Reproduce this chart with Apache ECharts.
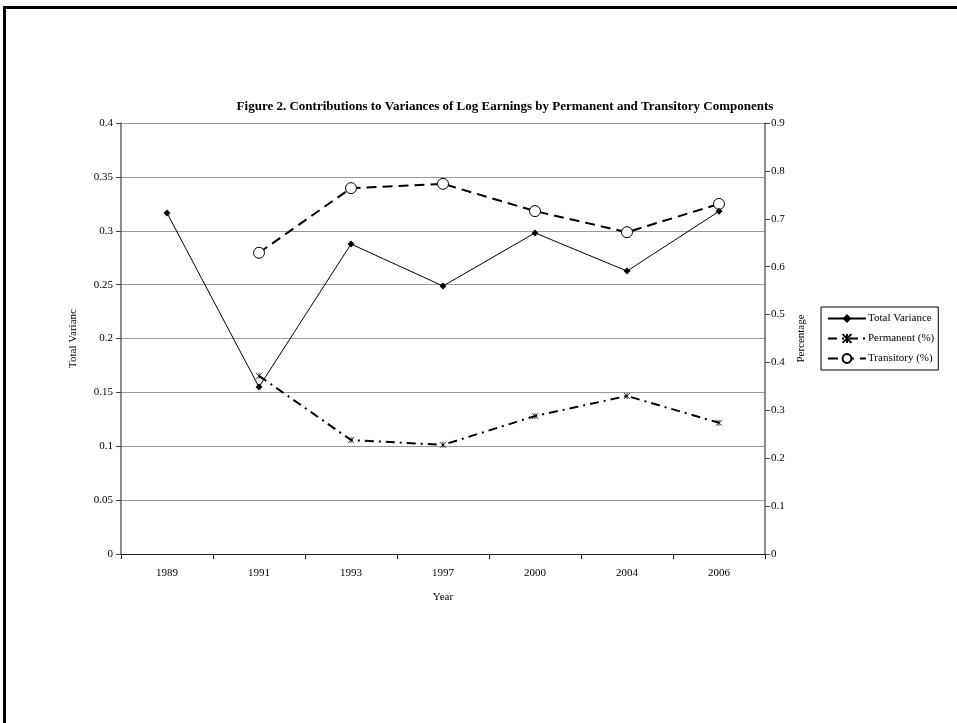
<!DOCTYPE html>
<html>
<head>
<meta charset="utf-8">
<script src="https://cdn.jsdelivr.net/npm/echarts@6/dist/echarts.min.js"></script>
<style>
html,body{margin:0;padding:0;background:#fff;}
#main{width:957px;height:723px;}
</style>
</head>
<body>
<div id="main"></div>
<script>
var years = ['1989','1991','1993','1997','2000','2004','2006'];
var totalVariance = [0.3165, 0.155, 0.2877, 0.2487, 0.298, 0.2626, 0.318];
var permanentPct = [null, 0.372, 0.238, 0.228, 0.288, 0.330, 0.274];
var transitoryPct = [null, 0.629, 0.764, 0.773, 0.716, 0.672, 0.731];
var leftTicks = {min: 0, max: 0.4, interval: 0.05};
var rightTicks = {min: 0, max: 0.9, interval: 0.1};

var FONT = '"Liberation Serif", "Times New Roman", serif';
var chart = echarts.init(document.getElementById('main'), null, {renderer: 'canvas'});
var starPath = 'path://M0,0 L10,10 M10,0 L0,10 M5,0 L5,10';

chart.setOption({
  backgroundColor: '#fff',
  animation: false,
  textStyle: {fontFamily: FONT, color: '#000'},
  title: {
    text: 'Figure 2. Contributions to Variances of Log Earnings by Permanent and Transitory Components',
    left: 500, textAlign: 'center', top: 95,
    textStyle: {fontFamily: FONT, fontSize: 13, fontWeight: 'bold', color: '#000'}
  },
  graphic: [
    {type: 'rect', shape: {x: 3, y: 6, width: 3, height: 717}, style: {fill: '#000'}},
    {type: 'rect', shape: {x: 3, y: 6, width: 954, height: 3}, style: {fill: '#000'}}
  ],
  legend: {
    orient: 'vertical',
    left: 821, top: 307,
    width: 115,
    padding: [6, 4, 6, 6],
    itemGap: 9,
    itemWidth: 38, itemHeight: 11,
    borderColor: '#000', borderWidth: 1,
    textStyle: {fontFamily: FONT, fontSize: 11, color: '#000', padding: [0, 0, 0, -3]},
    data: ['Total Variance', 'Permanent (%)', 'Transitory (%)']
  },
  grid: {left: 121, right: 192, top: 123, bottom: 169, containLabel: false},
  xAxis: {
    type: 'category',
    data: years,
    boundaryGap: true,
    name: 'Year', nameLocation: 'middle', nameGap: 38,
    nameTextStyle: {fontFamily: FONT, fontSize: 11, color: '#000'},
    axisLine: {lineStyle: {color: '#222', width: 1}},
    axisTick: {show: true, length: 5, lineStyle: {color: '#222'}},
    axisLabel: {fontFamily: FONT, fontSize: 11, color: '#000', margin: 14}
  },
  yAxis: [
    {
      type: 'value', position: 'left',
      min: leftTicks.min, max: leftTicks.max, interval: leftTicks.interval,
      name: 'Total Varianc', nameLocation: 'middle', nameGap: 42, nameRotate: 90,
      nameTextStyle: {fontFamily: FONT, fontSize: 11, color: '#000'},
      axisLine: {show: true, lineStyle: {color: '#666', width: 1.5}},
      axisTick: {show: true, length: 5, lineStyle: {color: '#444'}},
      axisLabel: {fontFamily: FONT, fontSize: 11, color: '#000', margin: 8},
      splitLine: {show: true, lineStyle: {color: '#999', width: 1}}
    },
    {
      type: 'value', position: 'right',
      min: rightTicks.min, max: rightTicks.max, interval: rightTicks.interval,
      name: 'Percentage', nameLocation: 'middle', nameGap: 25, nameRotate: 90,
      nameTextStyle: {fontFamily: FONT, fontSize: 11, color: '#000'},
      axisLine: {show: true, lineStyle: {color: '#666', width: 1.5}},
      axisTick: {show: true, length: 5, lineStyle: {color: '#444'}},
      axisLabel: {fontFamily: FONT, fontSize: 11, color: '#000', margin: 6},
      splitLine: {show: false}
    }
  ],
  series: [
    {
      name: 'Total Variance', type: 'line', yAxisIndex: 0,
      data: totalVariance,
      symbol: 'diamond', symbolSize: 7,
      itemStyle: {color: '#000'},
      lineStyle: {color: '#000', width: 1},
      z: 3
    },
    {
      name: 'Permanent (%)', type: 'line', yAxisIndex: 1,
      data: permanentPct,
      symbol: starPath, symbolSize: 6, showAllSymbol: true,
      itemStyle: {color: '#000', borderColor: '#000', borderWidth: 0.8},
      lineStyle: {color: '#000', width: 2, type: [9, 5, 2, 5]},
      z: 2
    },
    {
      name: 'Transitory (%)', type: 'line', yAxisIndex: 1,
      data: transitoryPct,
      symbol: 'circle', symbolSize: 11,
      itemStyle: {color: '#fff', borderColor: '#000', borderWidth: 1},
      lineStyle: {color: '#000', width: 2, type: [10, 6]},
      z: 2
    }
  ]
});
</script>
</body>
</html>
